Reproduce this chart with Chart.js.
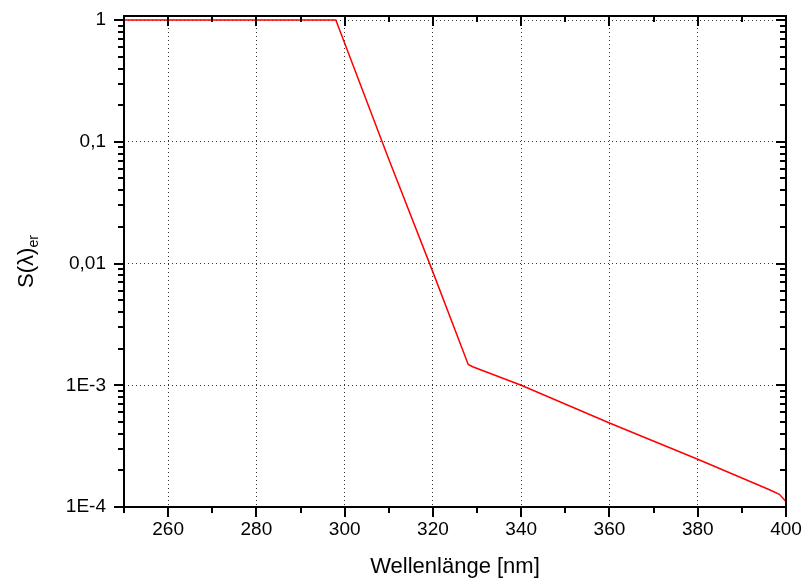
<!DOCTYPE html>
<html>
<head>
<meta charset="utf-8">
<script src="https://cdn.jsdelivr.net/npm/chart.js@4.4.1/dist/chart.umd.min.js"></script>
<style>
  html, body { margin: 0; padding: 0; background: #fff; }
  #wrap { width: 803px; height: 580px; }
</style>
</head>
<body>
<div id="wrap"><canvas id="c" width="803" height="580"></canvas></div>
<script>
// ---- data ----
const wavelength = [250, 298, 310, 320, 328, 329, 340, 360, 380, 396, 398.5, 400];
const sErythema  = [1, 1, 0.072, 0.0085, 0.00148, 0.00142, 0.00100, 0.00049, 0.000247, 0.000140, 0.000127, 0.000111];

const xMajorTicks = [260, 280, 300, 320, 340, 360, 380, 400];
const xMinorTicks = [250, 270, 290, 310, 330, 350, 370, 390];
const yMajorTicks = [0.0001, 0.001, 0.01, 0.1, 1];
const yTickLabels = ['1E-4', '1E-3', '0,01', '0,1', '1'];
const xTitle = 'Wellenlänge [nm]';
const yTitleMain = 'S(λ)';
const yTitleSub = 'er';

const FONT = '"Liberation Sans", Arial, sans-serif';

function isMajorY(v) {
  return yMajorTicks.some(m => Math.abs(Math.log10(v) - Math.log10(m)) < 1e-9);
}
function isMajorX(v) {
  return xMajorTicks.includes(v);
}

const frameTicks = {
  id: 'frameTicks',
  afterDraw(chart) {
    const { ctx, chartArea: { left, right, top, bottom }, scales: { x, y } } = chart;
    ctx.save();
    ctx.strokeStyle = '#000';
    ctx.lineWidth = 2;
    ctx.lineCap = 'butt';
    const seg = (x1, y1, x2, y2) => { ctx.beginPath(); ctx.moveTo(x1, y1); ctx.lineTo(x2, y2); ctx.stroke(); };
    y.ticks.forEach(t => {
      const py = Math.round(y.getPixelForValue(t.value));
      const len = isMajorY(t.value) ? 10 : 6;
      seg(left - len, py, left, py);
      seg(right - len, py, right, py);
    });
    x.ticks.forEach(t => {
      const px = Math.round(x.getPixelForValue(t.value));
      const len = isMajorX(t.value) ? 10 : 6;
      seg(px, bottom, px, bottom + len);
      seg(px, top, px, top + len);
    });
    ctx.strokeRect(left, top, right - left, bottom - top);

    // y axis title with subscript
    ctx.fillStyle = '#000';
    ctx.translate(33, (top + bottom) / 2);
    ctx.rotate(-Math.PI / 2);
    ctx.font = '22px ' + FONT;
    const wMain = ctx.measureText(yTitleMain).width;
    ctx.font = '14px ' + FONT;
    const wSub = ctx.measureText(yTitleSub).width;
    const total = wMain + wSub;
    ctx.textBaseline = 'alphabetic';
    ctx.textAlign = 'left';
    ctx.font = '22px ' + FONT;
    ctx.fillText(yTitleMain, -total / 2, 0);
    ctx.font = '14px ' + FONT;
    ctx.fillText(yTitleSub, -total / 2 + wMain, 5);
    ctx.restore();
  }
};

new Chart(document.getElementById('c'), {
  type: 'scatter',
  data: {
    datasets: [{
      data: wavelength.map((w, i) => ({ x: w, y: sErythema[i] })),
      showLine: true,
      borderColor: '#ff0000',
      borderWidth: 1.5,
      pointRadius: 0,
      tension: 0,
      fill: false
    }]
  },
  options: {
    responsive: false,
    devicePixelRatio: 1,
    animation: false,
    layout: { padding: { top: 16, right: 17, left: 0, bottom: 0 } },
    plugins: { legend: { display: false }, tooltip: { enabled: false } },
    scales: {
      x: {
        type: 'linear',
        min: 250, max: 400,
        afterFit(s) { s.height = 73; s.paddingLeft = 0; s.paddingRight = 0; s.paddingTop = 0; s.paddingBottom = 0; },
        afterBuildTicks(s) {
          s.ticks = [...xMinorTicks, ...xMajorTicks].sort((a, b) => a - b).map(v => ({ value: v }));
        },
        border: { display: false, dash: [1, 3] },
        grid: {
          drawTicks: false,
          color: ctx => (ctx.tick && isMajorX(ctx.tick.value) && ctx.tick.value < 400) ? '#333' : 'rgba(0,0,0,0)',
          lineWidth: 1
        },
        ticks: {
          autoSkip: false,
          maxRotation: 0,
          padding: 11,
          color: '#000',
          font: { family: FONT, size: 19 },
          callback: v => isMajorX(v) ? String(v) : ''
        },
        title: {
          display: true,
          text: xTitle,
          color: '#000',
          font: { family: FONT, size: 22 },
          padding: { top: 0, bottom: 0 }
        }
      },
      y: {
        type: 'logarithmic',
        min: 0.0001, max: 1.08,
        afterFit(s) { s.width = 124; s.paddingLeft = 0; s.paddingRight = 0; s.paddingTop = 0; s.paddingBottom = 0; },
        afterBuildTicks(s) {
          const t = [];
          for (let d = -4; d <= -1; d++) {
            for (let k = 1; k <= 9; k++) t.push(k * Math.pow(10, d));
          }
          t.push(1);
          s.ticks = t.map(v => ({ value: v }));
        },
        border: { display: false, dash: [1, 3] },
        grid: {
          drawTicks: false,
          color: ctx => (ctx.tick && isMajorY(ctx.tick.value) && ctx.tick.value > 0.00011) ? '#333' : 'rgba(0,0,0,0)',
          lineWidth: 1
        },
        ticks: {
          autoSkip: false,
          padding: 18,
          color: '#000',
          font: { family: FONT, size: 19 },
          callback: v => {
            const i = yMajorTicks.findIndex(m => Math.abs(Math.log10(v) - Math.log10(m)) < 1e-9);
            return i >= 0 ? yTickLabels[i] : '';
          }
        }
      }
    }
  },
  plugins: [frameTicks]
});
</script>
</body>
</html>
